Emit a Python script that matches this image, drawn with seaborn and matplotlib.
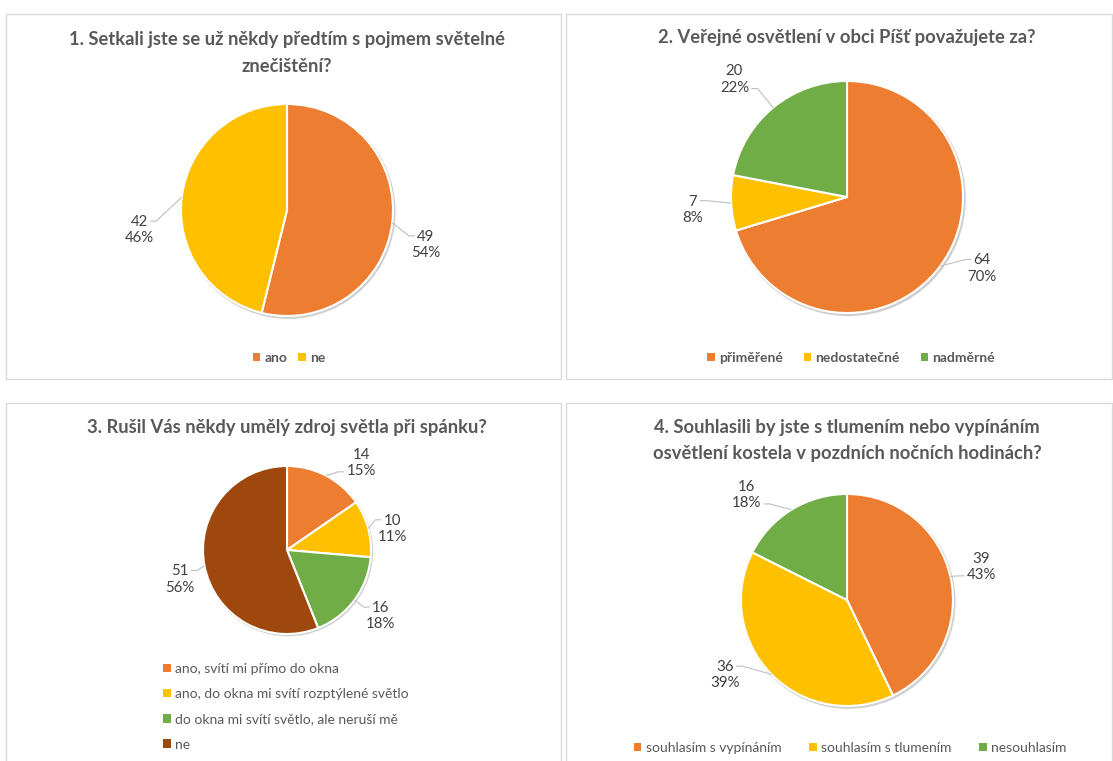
import numpy as np
import matplotlib
matplotlib.use("Agg")
import matplotlib.pyplot as plt
from matplotlib.patches import Rectangle, Patch, Circle
import seaborn as sns

# ---------------- data ----------------
q1_title = ["1. Setkali jste se už někdy předtím s pojmem světelné", "znečištění?"]
q1_labels = ["ano", "ne"]
q1_values = [49, 42]
q1_pcts = [54, 46]

q2_title = ["2. Veřejné osvětlení v obci Píšť považujete za?"]
q2_labels = ["přiměřené", "nedostatečné", "nadměrné"]
q2_values = [64, 7, 20]
q2_pcts = [70, 8, 22]

q3_title = ["3. Rušil Vás někdy umělý zdroj světla při spánku?"]
q3_labels = ["ano, svítí mi přímo do okna",
             "ano, do okna mi svítí rozptýlené světlo",
             "do okna mi svítí světlo, ale neruší mě",
             "ne"]
q3_values = [14, 10, 16, 51]
q3_pcts = [15, 11, 18, 56]

q4_title = ["4. Souhlasili by jste s tlumením nebo vypínáním",
            "osvětlení kostela v pozdních nočních hodinách?"]
q4_labels = ["souhlasím s vypínáním", "souhlasím s tlumením", "nesouhlasím"]
q4_values = [39, 36, 16]
q4_pcts = [43, 39, 18]

# ---------------- style ----------------
sns.set_theme(style="white")
plt.rcParams['font.family'] = ['Lato', 'DejaVu Sans']
palette = sns.color_palette(["#ED7D31", "#FFC000", "#70AD47", "#9E480E"])

TITLE_C = "#595959"
LABEL_C = "#404040"
LEG_C = "#595959"

W, H = 1113, 761
fig = plt.figure(figsize=(W / 100, H / 100), dpi=100)
fig.patch.set_facecolor("white")


def fx(x):
    return x / W


def fy(y):
    return 1 - y / H


# panel borders
for (x0, y0, x1, y1) in [(6, 14, 561, 379), (566, 14, 1112, 379),
                         (6, 403, 561, 775), (566, 403, 1112, 775)]:
    fig.add_artist(Rectangle((fx(x0), fy(y1)), (x1 - x0) / W, (y1 - y0) / H,
                             transform=fig.transFigure, fill=False,
                             edgecolor="#d9d9d9", lw=1.0))


def draw_titles(cx, ys, lines):
    for y, t in zip(ys, lines):
        fig.text(fx(cx), fy(y), t, ha="center", va="center", fontsize=13.2,
                 fontweight="bold", color=TITLE_C)


def draw_pie(cx, cy, r, values, pcts, colors, nudges, lab_f=1.32):
    s = 2.3 * r
    ax = fig.add_axes([fx(cx - s), fy(cy + s), 2 * s / W, 2 * s / H])
    # faint shadow
    ax.add_patch(Circle((0.012, -0.015), 1.012, color="#cfcfcf", zorder=0, lw=0))
    wedges, _ = ax.pie(values, colors=colors, startangle=90, counterclock=False,
                       radius=1, wedgeprops=dict(edgecolor="white", linewidth=1.5))
    lim = s / r
    ax.set_xlim(-lim, lim)
    ax.set_ylim(-lim, lim)
    ax.set_aspect("equal")
    ax.axis("off")
    px = 1.0 / r  # one pixel in data units
    for w, v, p, (ndx, ndy) in zip(wedges, values, pcts, nudges):
        th = np.deg2rad((w.theta1 + w.theta2) / 2)
        c, sn = np.cos(th), np.sin(th)
        lx = lab_f * c + ndx * px
        ly = lab_f * sn - ndy * px
        ax.text(lx, ly, f"{v}\n{p}%", ha="center", va="center", fontsize=10.8,
                color=LABEL_C, linespacing=1.2)
        ex, ey = 1.0 * c, 1.0 * sn
        # leader line to the line of text nearest to the pie edge point
        lower = (ly - ey) > 8 * px
        ty = ly - 9 * px if lower else ly + 9 * px
        half = 15 * px if lower else (9 * px if v < 100 else 12 * px)
        if v < 10 and not lower:
            half = 5 * px
        sgn = 1 if ex <= lx else -1
        tx = lx - sgn * (half + 2 * px)
        bx = tx - sgn * 6 * px
        ax.plot([ex, bx, tx], [ey, ty, ty], color="#bfbfbf", lw=0.8,
                solid_capstyle="butt", zorder=1)
    return ax


def draw_legend(labels, colors, x, y, ncol, loc="center", colsp=2.0, fs=10,
                weight="bold", rowsp=0.5):
    handles = [Patch(facecolor=c, edgecolor="none") for c in colors]
    leg = fig.legend(handles, labels, loc=loc, bbox_to_anchor=(fx(x), fy(y)),
                     ncol=ncol, frameon=False, handlelength=0.55, handleheight=0.55,
                     handletextpad=0.3, columnspacing=colsp, labelspacing=rowsp,
                     prop=dict(size=fs, weight=weight), borderaxespad=0,
                     borderpad=0)
    for t in leg.get_texts():
        t.set_color(LEG_C)
    return leg


# ---- chart 1 ----
draw_titles(287, [40, 67], q1_title)
draw_pie(287, 210, 106, q1_values, q1_pcts, palette[:2],
         nudges=[(0, 18), (-9, 37)])
draw_legend(q1_labels, palette[:2], 289, 358, 2, colsp=0.8)

# ---- chart 2 ----
draw_titles(847, [37], q2_title)
draw_pie(847, 197, 116, q2_values, q2_pcts, palette[:3], lab_f=1.28,
         nudges=[(16, -17), (-6, 5), (-18, -3)])
draw_legend(q2_labels, palette[:3], 851, 358, 3, colsp=1.5)

# ---- chart 3 ----
draw_titles(287, [428], q3_title)
draw_pie(287, 550, 84, q3_values, q3_pcts, palette[:4], lab_f=1.36,
         nudges=[(21, 14), (-5, 8), (2, -2), (5, 8)])
draw_legend(q3_labels, palette[:4], 163, 663, 1, loc="upper left", weight="normal",
            fs=10, rowsp=0.95)

# ---- chart 4 ----
draw_titles(847, [428, 453], q4_title)
draw_pie(847, 600, 106, q4_values, q4_pcts, palette[:3], lab_f=1.32,
         nudges=[(-2, -2), (-22, -23), (-27, 14)])
draw_legend(q4_labels, palette[:3], 850, 748, 3, colsp=2.0, weight="normal")

fig.savefig("out.png", dpi=100, facecolor="white")
